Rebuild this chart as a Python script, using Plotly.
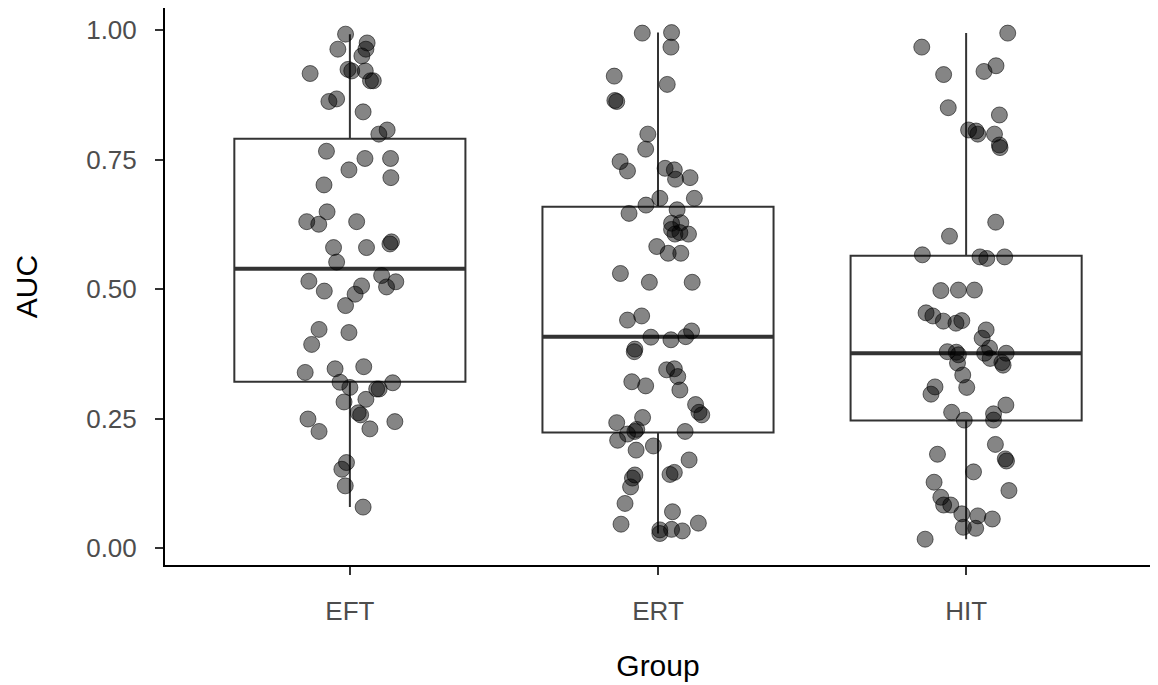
import plotly.graph_objects as go

# ---------------- data ----------------
groups = ["EFT", "ERT", "HIT"]

eft_auc = [0.992, 0.975, 0.963, 0.963, 0.950, 0.916, 0.924, 0.921, 0.921, 0.902, 0.902,
           0.862, 0.867, 0.842, 0.807, 0.799, 0.766, 0.752, 0.752, 0.730, 0.715, 0.701,
           0.649, 0.630, 0.625, 0.630, 0.580, 0.580, 0.591, 0.587, 0.552, 0.515, 0.496,
           0.506, 0.490, 0.468, 0.526, 0.514, 0.504, 0.422, 0.416, 0.393, 0.339, 0.346,
           0.350, 0.320, 0.310, 0.307, 0.307, 0.319, 0.282, 0.287, 0.261, 0.257, 0.249,
           0.225, 0.230, 0.244, 0.165, 0.152, 0.120, 0.079]
eft_jitter = [-0.014, 0.056, -0.039, 0.052, 0.039, -0.129, -0.006, 0.006, 0.050, 0.067, 0.076,
              -0.068, -0.043, 0.043, 0.121, 0.094, -0.076, 0.049, 0.132, -0.003, 0.133, -0.084,
              -0.074, -0.140, -0.101, 0.022, -0.053, 0.054, 0.135, 0.130, -0.043, -0.133, -0.083,
              0.038, 0.017, -0.014, 0.103, 0.149, 0.119, -0.100, -0.003, -0.124, -0.145, -0.048,
              0.045, -0.032, 0.000, 0.087, 0.095, 0.139, -0.019, 0.052, 0.027, 0.035, -0.136,
              -0.100, 0.065, 0.146, -0.011, -0.026, -0.015, 0.043]

ert_auc = [0.994, 0.995, 0.967, 0.911, 0.895, 0.864, 0.862, 0.799, 0.770, 0.746, 0.728,
           0.733, 0.730, 0.712, 0.715, 0.675, 0.675, 0.662, 0.646, 0.653, 0.627, 0.628,
           0.615, 0.606, 0.609, 0.606, 0.582, 0.569, 0.569, 0.530, 0.513, 0.513, 0.440,
           0.448, 0.407, 0.402, 0.408, 0.419, 0.384, 0.379, 0.344, 0.346, 0.331, 0.321,
           0.313, 0.305, 0.277, 0.262, 0.257, 0.242, 0.252, 0.229, 0.225, 0.220, 0.208,
           0.225, 0.189, 0.197, 0.170, 0.142, 0.146, 0.141, 0.135, 0.118, 0.086, 0.070,
           0.046, 0.048, 0.035, 0.028, 0.036, 0.033]
ert_jitter = [-0.051, 0.044, 0.042, -0.142, 0.030, -0.140, -0.134, -0.033, -0.040, -0.123, -0.099,
              0.023, 0.053, 0.057, 0.104, 0.006, 0.118, -0.039, -0.094, 0.062, 0.044, 0.074,
              0.044, 0.055, 0.071, 0.099, -0.004, 0.033, 0.074, -0.122, -0.028, 0.111, -0.099,
              -0.053, -0.023, 0.042, 0.090, 0.109, -0.075, -0.077, 0.028, 0.053, 0.064, -0.085,
              -0.040, 0.071, 0.122, 0.133, 0.142, -0.134, -0.050, -0.069, -0.075, -0.099, -0.131,
              0.088, -0.071, -0.015, 0.101, 0.039, 0.053, -0.075, -0.083, -0.089, -0.107, 0.047,
              -0.120, 0.131, 0.006, 0.006, 0.044, 0.079]

hit_auc = [0.994, 0.967, 0.920, 0.931, 0.914, 0.850, 0.836, 0.807, 0.805, 0.799, 0.799,
           0.778, 0.773, 0.629, 0.602, 0.566, 0.562, 0.559, 0.562, 0.497, 0.498, 0.498,
           0.454, 0.448, 0.438, 0.434, 0.439, 0.421, 0.405, 0.386, 0.379, 0.378, 0.373,
           0.357, 0.334, 0.376, 0.366, 0.376, 0.358, 0.353, 0.310, 0.311, 0.297, 0.262,
           0.247, 0.259, 0.247, 0.276, 0.181, 0.200, 0.172, 0.168, 0.147, 0.127, 0.111,
           0.098, 0.083, 0.083, 0.066, 0.062, 0.056, 0.040, 0.038, 0.017]
hit_jitter = [0.135, -0.144, 0.058, 0.097, -0.073, -0.058, 0.108, 0.008, 0.032, 0.038, 0.092,
              0.108, 0.110, 0.096, -0.054, -0.142, 0.045, 0.067, 0.125, -0.082, -0.025, 0.027,
              -0.130, -0.108, -0.074, -0.033, -0.014, 0.065, 0.052, 0.076, -0.061, -0.032, -0.025,
              -0.028, -0.011, 0.060, 0.078, 0.130, 0.116, 0.120, 0.002, -0.101, -0.114, -0.047,
              -0.006, 0.089, 0.089, 0.129, -0.093, 0.095, 0.127, 0.131, 0.024, -0.104, 0.139,
              -0.082, -0.073, -0.050, -0.014, 0.038, 0.085, -0.009, 0.031, -0.133]

# box statistics (as drawn)
box_q1 = [0.321, 0.223, 0.246]
box_median = [0.539, 0.408, 0.376]
box_q3 = [0.790, 0.659, 0.564]
box_lower = [0.079, 0.028, 0.017]
box_upper = [0.992, 0.995, 0.994]

y_ticks = [0.00, 0.25, 0.50, 0.75, 1.00]
y_ticktext = ["0.00", "0.25", "0.50", "0.75", "1.00"]

# ---------------- figure ----------------
fig = go.Figure()
box_w = 0.75
line_col = "#333333"

for i, g in enumerate(groups):
    pos = i + 1
    fig.add_trace(go.Box(
        x=[pos], q1=[box_q1[i]], median=[box_median[i]], q3=[box_q3[i]],
        lowerfence=[box_lower[i]], upperfence=[box_upper[i]],
        width=box_w, fillcolor="rgba(0,0,0,0)",
        line=dict(color=line_col, width=2), whiskerwidth=0,
        boxpoints=False, showlegend=False, hoverinfo="skip", name=g))
    # thicker median line
    fig.add_trace(go.Scatter(
        x=[pos - box_w / 2, pos + box_w / 2], y=[box_median[i], box_median[i]],
        mode="lines", line=dict(color=line_col, width=4),
        showlegend=False, hoverinfo="skip"))

for i, (vals, jit) in enumerate([(eft_auc, eft_jitter), (ert_auc, ert_jitter), (hit_auc, hit_jitter)]):
    pos = i + 1
    fig.add_trace(go.Scatter(
        x=[pos + j for j in jit], y=vals, mode="markers",
        marker=dict(size=16, color="rgba(0,0,0,0.48)",
                    line=dict(color="rgba(0,0,0,0.55)", width=1)),
        showlegend=False, name=groups[i]))

font_fam = "Liberation Sans, Arial, sans-serif"
# page body has an 8px offset, so the figure is sized/margined to compensate
fig.update_layout(
    width=1150, height=677,
    margin=dict(l=157, r=7, t=0, b=120),
    plot_bgcolor="white", paper_bgcolor="white",
    font=dict(family=font_fam),
    showlegend=False,
)
fig.update_xaxes(
    range=[0.4, 3.6], tickvals=[1, 2, 3], ticktext=groups,
    showgrid=False, zeroline=False,
    showline=True, linecolor="black", linewidth=2,
    ticks="outside", ticklen=8, tickcolor="#333333", tickwidth=2,
    tickfont=dict(size=26, color="#4D4D4D", family=font_fam),
    ticklabelstandoff=14,
    title=dict(text="Group", font=dict(size=30, color="black", family=font_fam), standoff=30),
)
fig.update_yaxes(
    range=[-0.0328, 1.0425], tickvals=y_ticks, ticktext=y_ticktext,
    showgrid=False, zeroline=False,
    showline=True, linecolor="black", linewidth=2,
    ticks="outside", ticklen=8, tickcolor="#333333", tickwidth=2,
    tickfont=dict(size=26, color="#4D4D4D", family=font_fam),
    ticklabelstandoff=13,
    title=dict(text="AUC", font=dict(size=30, color="black", family=font_fam), standoff=40),
)

fig.write_html("out.html")
